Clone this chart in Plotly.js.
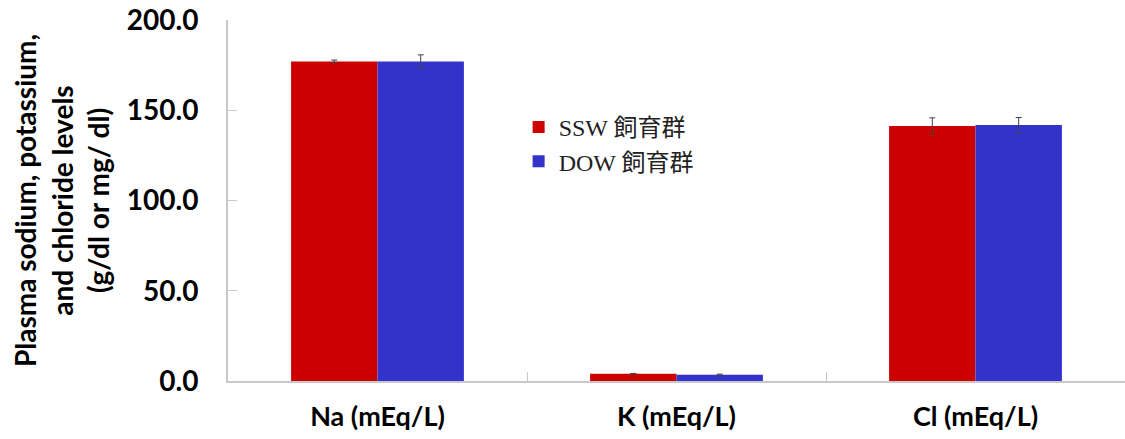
<!DOCTYPE html>
<html>
<head>
<meta charset="utf-8">
<script src="https://cdn.plot.ly/plotly-3.0.1.min.js"></script>
<style>html,body{margin:0;padding:0;background:#fff;}#chart{width:1125px;height:439px;}</style>
</head>
<body>
<div id="chart"></div>
<script>
const categories = ["Na (mEq/L)", "K (mEq/L)", "Cl (mEq/L)"];
const seriesNames = ["SSW 飼育群", "DOW 飼育群"];
const sswValues = [177.0, 4.0, 141.3];
const sswErrors = [0.8, 0.2, 4.5];
const dowValues = [177.0, 3.5, 141.8];
const dowErrors = [3.7, 0.3, 4.2];
const yTickValues = [0, 50, 100, 150, 200];
const yTitleLines = ["Plasma sodium, potassium,", "and chloride levels", "(g/dl or mg/ dl)"];

const errStyle = (arr) => ({type: 'data', array: arr, visible: true, color: '#404040', thickness: 1, width: 3});

const traces = [
  {type: 'bar', name: seriesNames[0], x: categories, y: sswValues, error_y: errStyle(sswErrors),
   marker: {color: '#CC0000'}},
  {type: 'bar', name: seriesNames[1], x: categories, y: dowValues, error_y: errStyle(dowErrors),
   marker: {color: '#3333CC'}}
];

const layout = {
  width: 1125, height: 439,
  margin: {l: 228, r: 0, t: 20, b: 58},
  paper_bgcolor: '#fff', plot_bgcolor: '#fff',
  barmode: 'group', bargap: 0.422, bargroupgap: 0,
  font: {family: 'Lato, sans-serif', color: '#000'},
  showlegend: true,
  legend: {x: 0.324, y: 0.765, xanchor: 'left', yanchor: 'top', bgcolor: 'rgba(0,0,0,0)',
           font: {family: '"Liberation Serif", "Noto Sans CJK JP", serif', size: 24, color: '#222'},
           tracegroupgap: 0},
  xaxis: {type: 'category', tickson: 'boundaries', ticks: 'inside', ticklen: 9, tickcolor: '#c8c8c8',
          showline: true, linecolor: '#c8c8c8', linewidth: 2, showgrid: false, zeroline: false,
          tickfont: {family: 'Lato, sans-serif', size: 27, weight: 'bold', color: '#000'},
          ticklabelstandoff: 11, automargin: false},
  yaxis: {range: [0, 200], tickvals: yTickValues, tickformat: '.1f', ticks: 'inside', ticklen: 9,
          tickcolor: '#c8c8c8', showline: true, linecolor: '#c8c8c8', linewidth: 2, showgrid: false,
          zeroline: false, automargin: false,
          tickfont: {family: 'Lato, sans-serif', size: 28, weight: 'bold', color: '#000'},
          ticklabelstandoff: 22,
          title: {text: yTitleLines.join('<br>'), standoff: 9,
                  font: {family: 'Lato, sans-serif', size: 28, weight: 'bold', color: '#000'}}}
};

Plotly.newPlot('chart', traces, layout, {displayModeBar: false, staticPlot: true});
</script>
</body>
</html>
